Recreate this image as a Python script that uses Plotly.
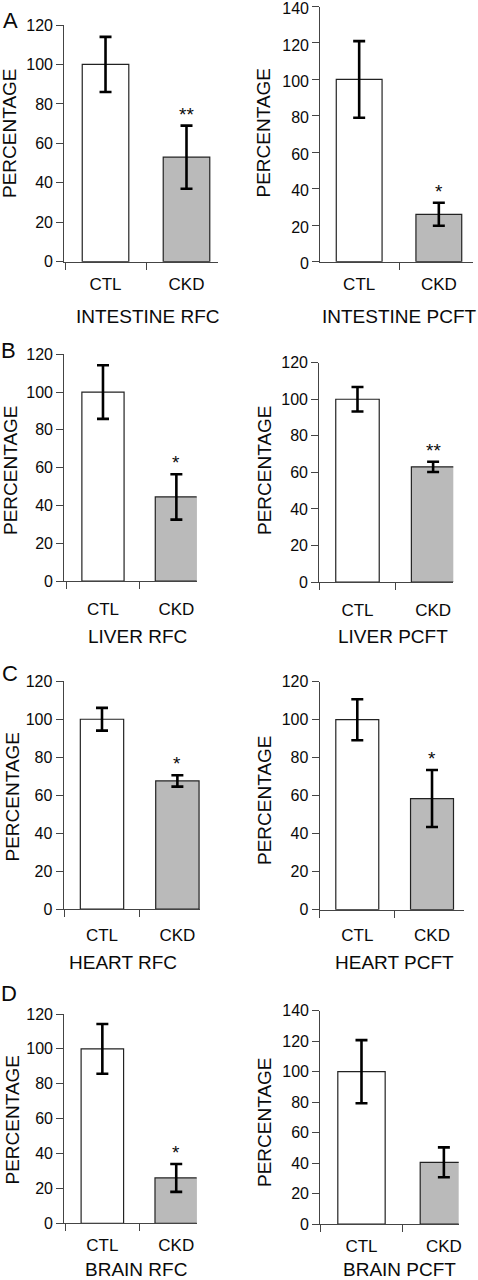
import plotly.graph_objects as go

# ---------------- data ----------------
categories = ["CTL", "CKD"]
panel_titles = ["INTESTINE RFC", "INTESTINE PCFT", "LIVER RFC", "LIVER PCFT",
                "HEART RFC", "HEART PCFT", "BRAIN RFC", "BRAIN PCFT"]
ctl_values = [100, 100, 100, 100, 100, 100, 100, 100]
ckd_values = [53, 26, 44.5, 63, 67.5, 58.5, 26, 40.5]
ctl_errors = [14, 21, 14.2, 6.7, 6, 10.8, 14.3, 20.7]
ckd_errors = [16, 6.3, 12, 2.8, 3, 15, 8, 9.8]
significance = ["**", "*", "*", "**", "*", "*", "*", ""]
y_max = [120, 140, 120, 120, 120, 120, 120, 140]
y_dtick = 20
row_letters = ["A", "B", "C", "D"]

# ---------------- layout geometry (pixels) ----------------
W, H = 478, 1280
geom = [
    dict(x0=64.3, x1=218.0, top=25.0, bot=261.7, xr=(-0.509, 1.389), so=7, yt=(10, 133), tt=(148, 316.7), ls=0),
    dict(x0=320.3, x1=473.0, top=6.5, bot=261.7, xr=(-0.488, 1.429), so=7, yt=(263.5, 133), tt=(399, 316.7), ls=2),
    dict(x0=64.3, x1=196.7, top=354.3, bot=581.0, xr=(-0.527, 1.277), so=12, yt=(10, 470), tt=(137.7, 636), ls=0),
    dict(x0=319.3, x1=453.3, top=362.7, bot=582.0, xr=(-0.505, 1.267), so=12, yt=(264, 470), tt=(393, 636), ls=0),
    dict(x0=63.7, x1=200.0, top=681.3, bot=909.0, xr=(-0.508, 1.30), so=10, yt=(11.5, 797), tt=(123.3, 962), ls=0),
    dict(x0=319.7, x1=464.0, top=681.7, bot=909.7, xr=(-0.503, 1.428), so=10, yt=(264, 800), tt=(394.5, 962), ls=0),
    dict(x0=64.3, x1=196.7, top=1014.0, bot=1223.3, xr=(-0.515, 1.277), so=6, yt=(11.5, 1120), tt=(135.5, 1269.5), ls=0),
    dict(x0=320.3, x1=458.7, top=1010.7, bot=1224.0, xr=(-0.5, 1.18), so=6, yt=(264, 1122), tt=(399.5, 1269.5), ls=0),
]
letter_pos = [(10.8, 20.8), (8.8, 350.8), (10, 673), (9.2, 993)]

FONT = "Liberation Sans, Arial, Helvetica, sans-serif"
AXIS_COLOR = "#444444"
BAR_LINE = "#222222"
CKD_FILL = "#bababa"
TXT = "#0a0a0a"

fig = go.Figure()
annotations = []

for i in range(8):
    g = geom[i]
    xa = "x" if i == 0 else f"x{i+1}"
    ya = "y" if i == 0 else f"y{i+1}"
    vals = [ctl_values[i], ckd_values[i]]
    errs = [ctl_errors[i], ckd_errors[i]]
    fig.add_trace(go.Bar(
        x=categories, y=vals,
        xaxis=xa, yaxis=ya,
        width=0.575,
        marker=dict(color=["#ffffff", CKD_FILL], line=dict(color=BAR_LINE, width=1.2)),
        error_y=dict(type="data", array=errs, visible=True, color="#000000",
                     thickness=2.6, width=6),
        showlegend=False, hoverinfo="skip", cliponaxis=True,
    ))
    xd = [g["x0"] / W, g["x1"] / W]
    yd = [1 - g["bot"] / H, 1 - g["top"] / H]
    fig.layout[f"xaxis{'' if i == 0 else i+1}"] = dict(
        domain=xd, anchor=ya, type="category", range=list(g["xr"]),
        showline=True, linecolor=AXIS_COLOR, linewidth=1.3,
        ticks="outside", ticklen=7, tickcolor=AXIS_COLOR, tickwidth=1.3,
        tickson="boundaries", showgrid=False, zeroline=False,
        ticklabelstandoff=g["so"], automargin=False, ticklabeloverflow="allow",
        tickfont=dict(family=FONT, size=17, color=TXT),
        fixedrange=True,
    )
    fig.layout[f"yaxis{'' if i == 0 else i+1}"] = dict(
        domain=yd, anchor=xa, range=[0, y_max[i]], dtick=y_dtick, tick0=0,
        showline=True, linecolor=AXIS_COLOR, linewidth=1.3,
        ticks="outside", ticklen=7, tickcolor=AXIS_COLOR, tickwidth=1.3,
        showgrid=False, zeroline=False, automargin=False, ticklabeloverflow="allow",
        ticklabelshift=g["ls"],
        tickfont=dict(family=FONT, size=16, color=TXT),
        fixedrange=True,
    )
    annotations.append(dict(
        text="PERCENTAGE", textangle=-90, xref="paper", yref="paper",
        x=g["yt"][0] / W, y=1 - g["yt"][1] / H, xanchor="center", yanchor="middle",
        showarrow=False, font=dict(family=FONT, size=19, color=TXT),
    ))
    annotations.append(dict(
        text=panel_titles[i], xref="paper", yref="paper",
        x=g["tt"][0] / W, y=1 - g["tt"][1] / H, xanchor="center", yanchor="middle",
        showarrow=False, font=dict(family=FONT, size=19, color=TXT),
    ))
    if significance[i]:
        annotations.append(dict(
            text=significance[i], xref=xa, yref=ya,
            x=categories[1], y=ckd_values[i] + ckd_errors[i],
            xanchor="center", yanchor="bottom", yshift=-1,
            showarrow=False, font=dict(family=FONT, size=19, color=TXT),
        ))

for r, letter in enumerate(row_letters):
    annotations.append(dict(
        text=letter, xref="paper", yref="paper",
        x=letter_pos[r][0] / W, y=1 - letter_pos[r][1] / H,
        xanchor="center", yanchor="middle", showarrow=False,
        font=dict(family=FONT, size=22, color=TXT),
    ))

fig.update_layout(
    width=W, height=H,
    margin=dict(l=0, r=0, t=0, b=0, autoexpand=False),
    paper_bgcolor="#ffffff", plot_bgcolor="#ffffff",
    annotations=annotations,
    bargap=0.4,
)

fig.write_html("out.html", config={"displayModeBar": False},
               post_script="document.body.style.margin='0';document.body.style.padding='0';")
